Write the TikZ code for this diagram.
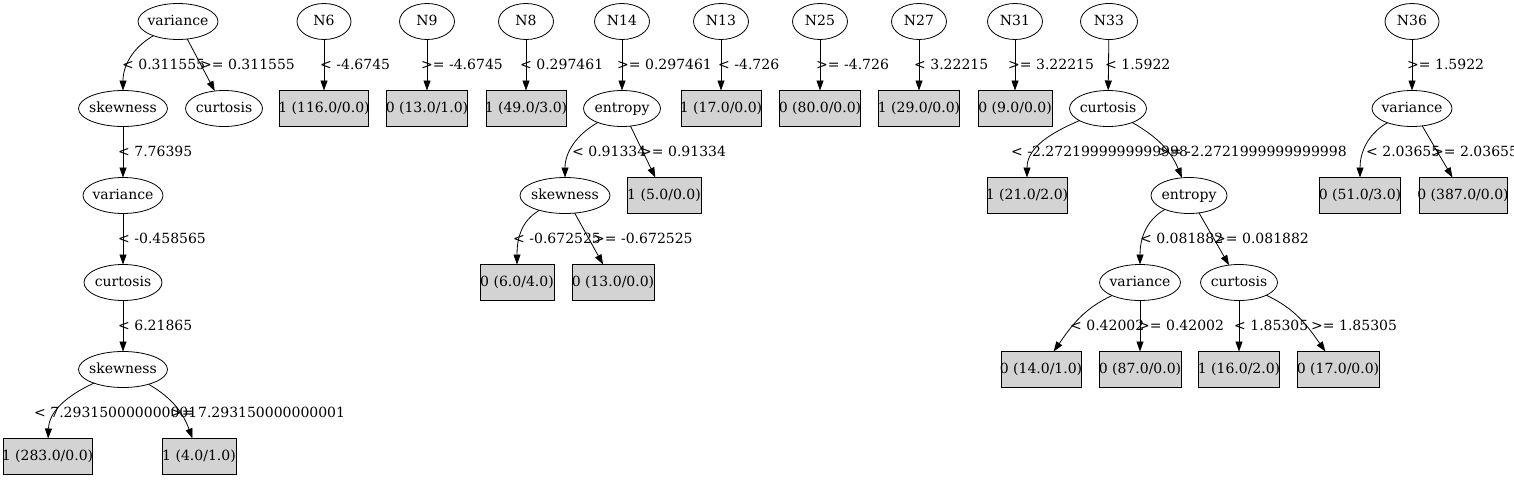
\documentclass[tikz,border=0pt]{standalone}
\usepackage{fontspec}
\setmainfont{DejaVu Serif}
\usetikzlibrary{shapes.geometric,arrows.meta}
\definecolor{boxgray}{HTML}{D3D3D3}
\newcommand\gvt[1]{\makebox[0pt]{\vphantom{(}#1}}
\begin{document}
\begin{tikzpicture}[x=1pt,y=1pt,
 every node/.style={font=\fontsize{14}{16}\selectfont},
 ell/.style={ellipse,draw,line width=0.8pt,minimum height=36,inner sep=0,outer sep=0},
 leaf/.style={rectangle,draw,fill=boxgray,line width=0.8pt,minimum height=36,inner sep=0,outer sep=0},
 lab/.style={anchor=base west,inner sep=0},
 edge/.style={draw,line width=0.8pt,-{Triangle[length=10pt,width=7pt]}}
]
\useasboundingbox (0,0) rectangle (1514,-479);
% row 1
\node[ell,minimum width=80] (v1) at (178,-21.5) {\gvt{variance}};
\node[ell,minimum width=54] (n6) at (324,-21.5) {\gvt{N6}};
\node[ell,minimum width=55] (n9) at (427,-21.5) {\gvt{N9}};
\node[ell,minimum width=55] (n8) at (526,-21.5) {\gvt{N8}};
\node[ell,minimum width=55] (n14) at (622,-21.5) {\gvt{N14}};
\node[ell,minimum width=55] (n13) at (721,-21.5) {\gvt{N13}};
\node[ell,minimum width=55] (n25) at (820,-21.5) {\gvt{N25}};
\node[ell,minimum width=55] (n27) at (919,-21.5) {\gvt{N27}};
\node[ell,minimum width=55] (n31) at (1015,-21.5) {\gvt{N31}};
\node[ell,minimum width=57] (n33) at (1109,-21.5) {\gvt{N33}};
\node[ell,minimum width=54] (n36) at (1412,-21.5) {\gvt{N36}};
% row 2
\node[ell,minimum width=89] (s1) at (123,-108.5) {\gvt{skewness}};
\node[ell,minimum width=77] (c1) at (224,-108.5) {\gvt{curtosis}};
\node[leaf,minimum width=89] (b6) at (324,-108.5) {\gvt{1 (116.0/0.0)}};
\node[leaf,minimum width=81] (b9) at (427,-108.5) {\gvt{0 (13.0/1.0)}};
\node[leaf,minimum width=80] (b8) at (526,-108.5) {\gvt{1 (49.0/3.0)}};
\node[ell,minimum width=77] (e14) at (622,-108.5) {\gvt{entropy}};
\node[leaf,minimum width=80] (b13) at (721,-108.5) {\gvt{1 (17.0/0.0)}};
\node[leaf,minimum width=81] (b25) at (820,-108.5) {\gvt{0 (80.0/0.0)}};
\node[leaf,minimum width=81] (b27) at (919,-108.5) {\gvt{1 (29.0/0.0)}};
\node[leaf,minimum width=74] (b31) at (1015,-108.5) {\gvt{0 (9.0/0.0)}};
\node[ell,minimum width=77] (c33) at (1108,-108.5) {\gvt{curtosis}};
\node[ell,minimum width=80] (v36) at (1412,-108.5) {\gvt{variance}};
% row 3
\node[ell,minimum width=80] (v2) at (123,-195.5) {\gvt{variance}};
\node[ell,minimum width=90] (s14) at (565,-195.5) {\gvt{skewness}};
\node[leaf,minimum width=74] (b14b) at (664,-195.5) {\gvt{1 (5.0/0.0)}};
\node[leaf,minimum width=80] (b33a) at (1027,-195.5) {\gvt{1 (21.0/2.0)}};
\node[ell,minimum width=76] (e33) at (1189,-195.5) {\gvt{entropy}};
\node[leaf,minimum width=81] (b36a) at (1360,-195.5) {\gvt{0 (51.0/3.0)}};
\node[leaf,minimum width=88] (b36b) at (1463,-195.5) {\gvt{0 (387.0/0.0)}};
% row 4
\node[ell,minimum width=78] (c2) at (123,-282.5) {\gvt{curtosis}};
\node[leaf,minimum width=74] (b14c) at (517,-282.5) {\gvt{0 (6.0/4.0)}};
\node[leaf,minimum width=82] (b14d) at (613,-282.5) {\gvt{0 (13.0/0.0)}};
\node[ell,minimum width=81] (v33) at (1140,-282.5) {\gvt{variance}};
\node[ell,minimum width=77] (c33b) at (1239,-282.5) {\gvt{curtosis}};
% row 5
\node[ell,minimum width=89] (s2) at (123,-369.5) {\gvt{skewness}};
\node[leaf,minimum width=80] (b33c) at (1041,-369.5) {\gvt{0 (14.0/1.0)}};
\node[leaf,minimum width=82] (b33d) at (1140,-369.5) {\gvt{0 (87.0/0.0)}};
\node[leaf,minimum width=81] (b33e) at (1239,-369.5) {\gvt{1 (16.0/2.0)}};
\node[leaf,minimum width=82] (b33f) at (1338,-369.5) {\gvt{0 (17.0/0.0)}};
% row 6
\node[leaf,minimum width=89] (b1a) at (47.5,-456.5) {\gvt{1 (283.0/0.0)}};
\node[leaf,minimum width=74] (b1b) at (199,-456.5) {\gvt{1 (4.0/1.0)}};
% edges
\draw[edge] (v1) to[out=-150,in=90] (s1);
\draw[edge] (v1) -- (c1);
\draw[edge] (n6) -- (b6);
\draw[edge] (n9) -- (b9);
\draw[edge] (n8) -- (b8);
\draw[edge] (n14) -- (e14);
\draw[edge] (n13) -- (b13);
\draw[edge] (n25) -- (b25);
\draw[edge] (n27) -- (b27);
\draw[edge] (n31) -- (b31);
\draw[edge] (n33) -- (c33);
\draw[edge] (n36) -- (v36);
\draw[edge] (s1) -- (v2);
\draw[edge] (v2) -- (c2);
\draw[edge] (c2) -- (s2);
\draw[edge] (s2) to[out=-155,in=88] (b1a);
\draw[edge] (s2) to[out=-30,in=110] (b1b);
\draw[edge] (e14) to[out=-150,in=90] (s14);
\draw[edge] (e14) -- (b14b);
\draw[edge] (s14) to[out=-150,in=90] (b14c);
\draw[edge] (s14) -- (b14d);
\draw[edge] (c33) to[out=-157,in=90] (b33a);
\draw[edge] (c33) to[out=-30,in=112] (e33);
\draw[edge] (e33) to[out=-150,in=90] (v33);
\draw[edge] (e33) -- (c33b);
\draw[edge] (v33) to[out=-155,in=55] (b33c);
\draw[edge] (v33) -- (b33d);
\draw[edge] (c33b) -- (b33e);
\draw[edge] (c33b) to[out=-25,in=125] (b33f);
\draw[edge] (v36) to[out=-150,in=90] (b36a);
\draw[edge] (v36) -- (b36b);
% labels
\node[lab] (l1) at (122,-69) {< 0.311555};
\node[lab] (l2) at (200,-69) {>= 0.311555};
\node[lab] (l3) at (320,-69) {< -4.6745};
\node[lab] (l4) at (421,-69) {>= -4.6745};
\node[lab] (l5) at (520,-69) {< 0.297461};
\node[lab] (l6) at (617,-69) {>= 0.297461};
\node[lab] (l7) at (718,-69) {< -4.726};
\node[lab] (l8) at (816,-69) {>= -4.726};
\node[lab] (l9) at (914,-69) {< 3.22215};
\node[lab] (l10) at (1008,-69) {>= 3.22215};
\node[lab] (l11) at (1105,-69) {< 1.5922};
\node[lab] (l12) at (1407,-69) {>= 1.5922};
\node[lab] (l13) at (118,-156) {< 7.76395};
\node[lab] (l14) at (572,-156) {< 0.91334};
\node[lab] (l15) at (640,-156) {>= 0.91334};
\node[lab] (l16) at (1011,-156) {< -2.2721999999999998};
\node[lab] (l17) at (1158,-156) {>= -2.2721999999999998};
\node[lab] (l18) at (1366,-156) {< 2.03655};
\node[lab] (l19) at (1432,-156) {>= 2.03655};
\node[lab] (l20) at (118,-243) {< -0.458565};
\node[lab] (l21) at (513,-243) {< -0.672525};
\node[lab] (l22) at (593,-243) {>= -0.672525};
\node[lab] (l23) at (1140,-243) {< 0.081882};
\node[lab] (l24) at (1214,-243) {>= 0.081882};
\node[lab] (l25) at (118,-330) {< 6.21865};
\node[lab] (l26) at (1070,-330) {< 0.42002};
\node[lab] (l27) at (1138,-330) {>= 0.42002};
\node[lab] (l28) at (1234,-330) {< 1.85305};
\node[lab] (l29) at (1311,-330) {>= 1.85305};
\node[lab] (l30) at (34,-417) {< 7.293150000000001};
\node[lab] (l31) at (170,-417) {>= 7.293150000000001};
\end{tikzpicture}
\end{document}
